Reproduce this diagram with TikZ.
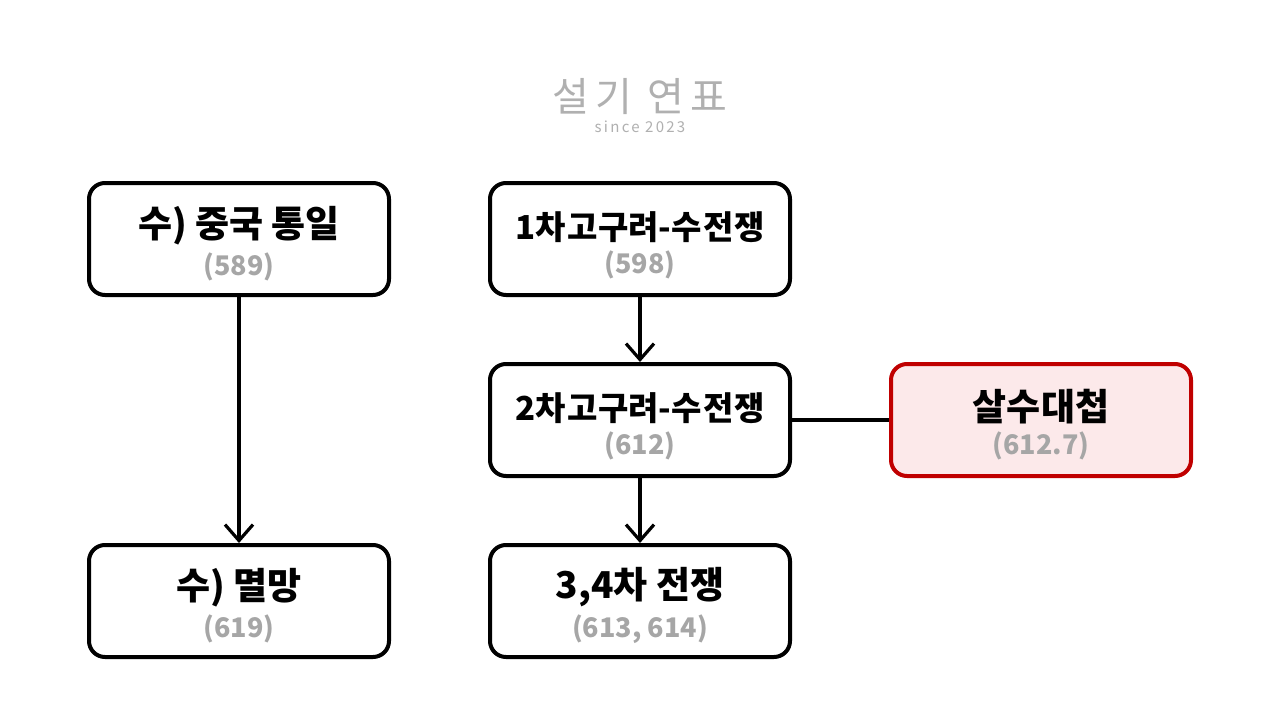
\documentclass[tikz,border=0pt]{standalone}
\usepackage{fontspec}
\newfontfamily\kr{Noto Sans CJK KR}[BoldFont={Noto Sans CJK KR Black}]
\newfontfamily\krt{Noto Sans CJK KR}[LetterSpace=15]
\usetikzlibrary{arrows.meta}
\definecolor{gtext}{HTML}{A6A6A6}
\definecolor{redb}{HTML}{C00000}
\definecolor{redf}{HTML}{FCE9EA}
\definecolor{ttl}{HTML}{B0B0B0}
\tikzset{
  evbox/.style={draw=black, line width=4pt, rounded corners=16pt, fill=white,
    minimum width=300pt, minimum height=112pt, align=center, inner sep=0pt, font=\kr},
  redbox/.style={evbox, draw=redb, fill=redf},
  conn/.style={line width=3.2pt, draw=black},
  arr/.style={conn, -{Straight Barb[length=16pt,width=28pt,line width=3.2pt]}}
}
\newcommand{\ev}[3][37]{{\fontsize{#1}{40}\selectfont\bfseries\rule{0pt}{41pt}#2}\\[7pt]{\fontsize{27}{30}\selectfont\bfseries\color{gtext}#3}}
\begin{document}
\begin{tikzpicture}[x=1pt,y=-1pt]
\useasboundingbox (0,0) rectangle (1280,720);
\fill[white] (0,0) rectangle (1280,720);
\node[text=ttl, font=\krt\fontsize{40}{42}\selectfont] (title) at (640,97) {설기 연표};
\node[text=ttl, font=\krt\fontsize{15}{16}\selectfont] (since) at (640,127) {since 2023};

\node[evbox] (a1) at (239,239) {\ev{수) 중국 통일}{(589)}};
\node[evbox] (a2) at (239,601) {\ev{수) 멸망}{(619)}};
\node[evbox] (b1) at (640,239) {\ev[33]{1차\hspace{2pt}고구려-수\hspace{2pt}전쟁}{(598)}};
\node[evbox] (b2) at (640,420) {\ev[33]{2차\hspace{2pt}고구려-수\hspace{2pt}전쟁}{(612)}};
\node[evbox] (b3) at (640,601) {\ev{3,4차 전쟁}{(613, 614)}};
\node[redbox] (c2) at (1041,420) {\ev{살수대첩}{(612.7)}};

\draw[arr] (a1.south) -- (a2.north);
\draw[arr] (b1.south) -- (b2.north);
\draw[arr] (b2.south) -- (b3.north);
\draw[conn] (b2.east) -- (c2.west);
\end{tikzpicture}
\end{document}
